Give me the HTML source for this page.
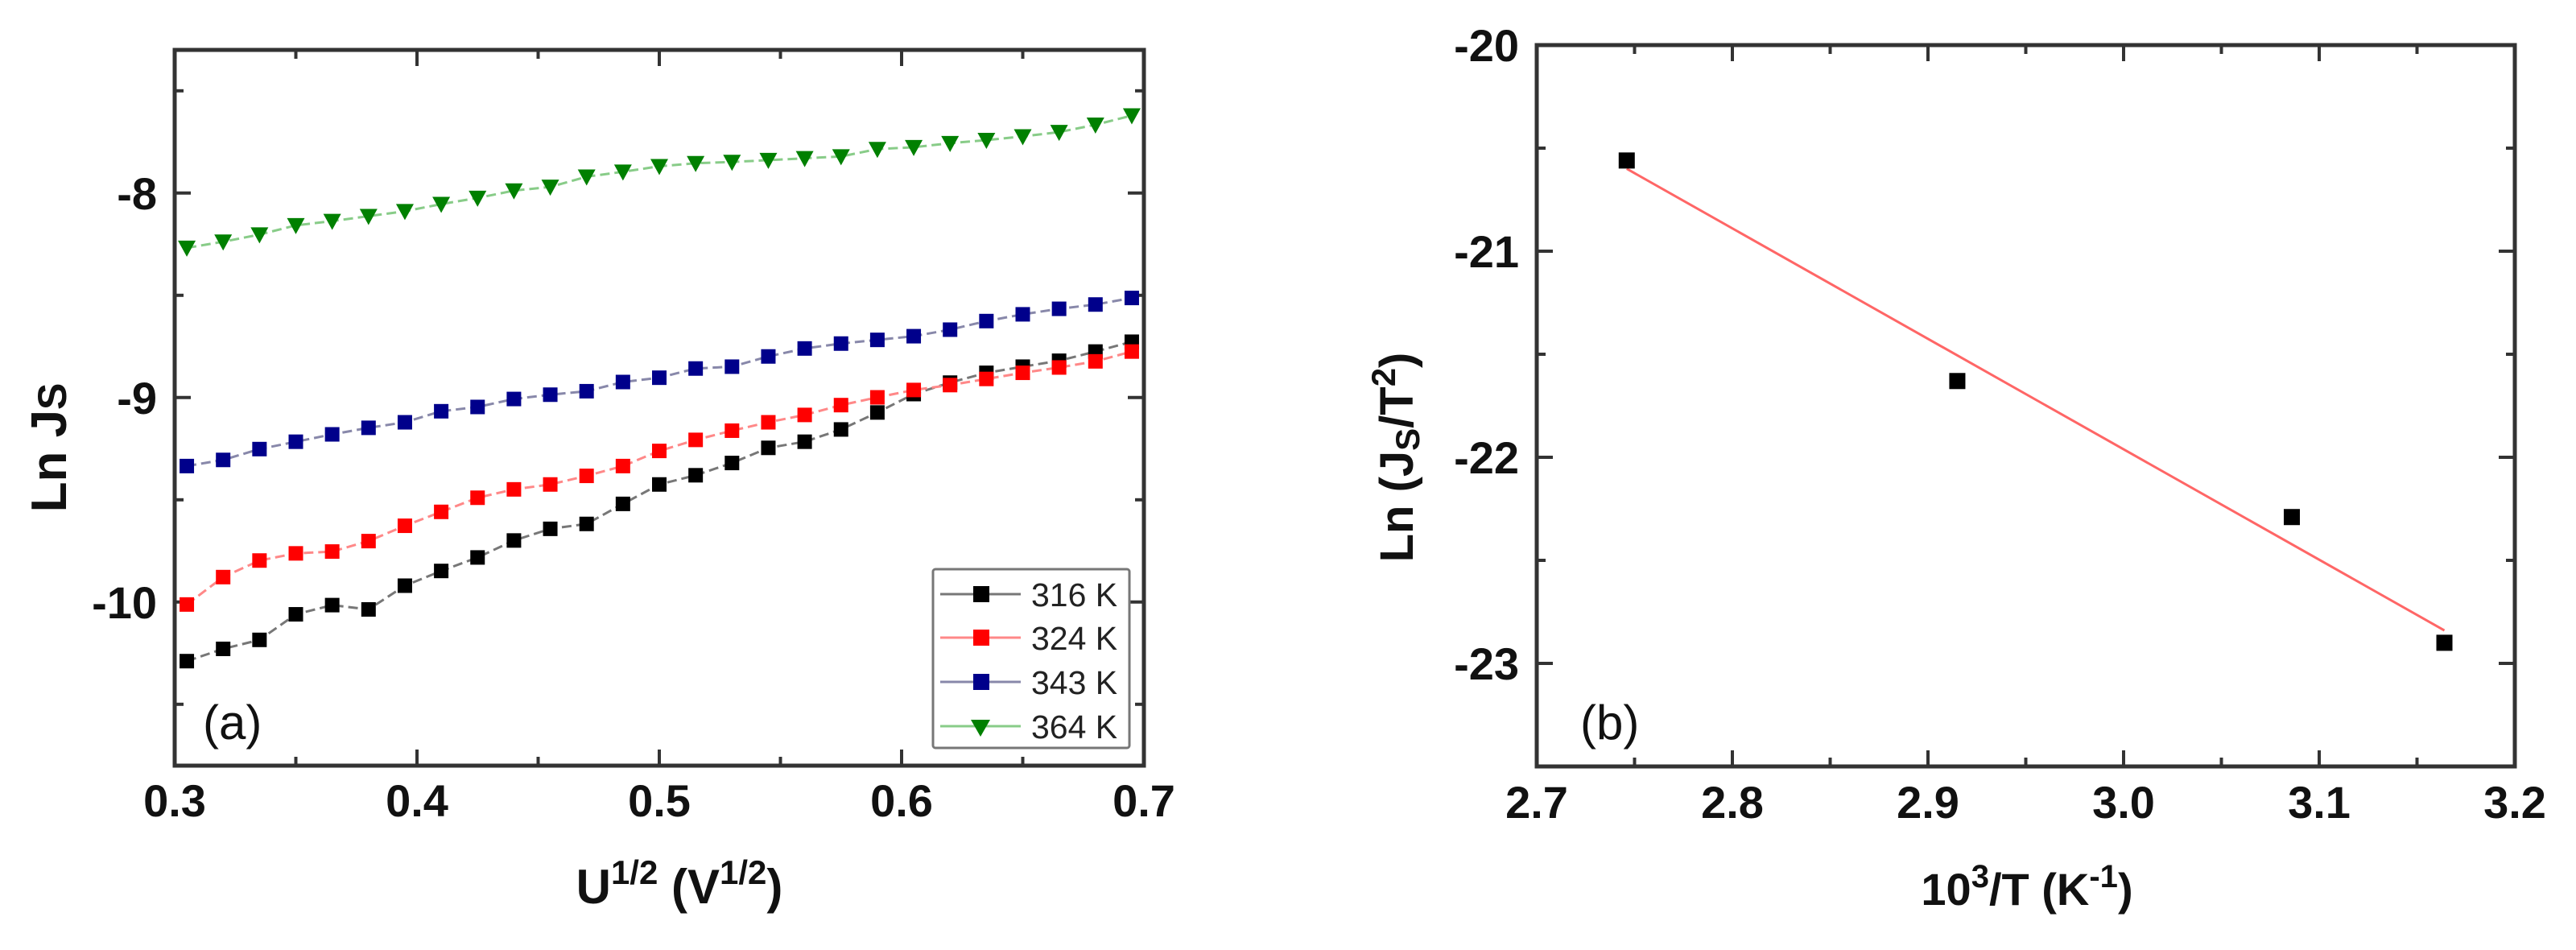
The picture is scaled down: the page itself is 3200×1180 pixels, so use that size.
<!DOCTYPE html>
<html><head><meta charset="utf-8"><style>
html,body{margin:0;padding:0;background:#fff;}
svg{display:block;font-family:"Liberation Sans",Arial,sans-serif;}
</style></head><body>
<svg id="fig" width="3200" height="1180" viewBox="0 0 3200 1180" xmlns="http://www.w3.org/2000/svg">
<rect width="3200" height="1180" fill="#fff"/>
<g id="chartA"></g>
<g id="chartB"></g>
</svg>
<script>
// ---- Chart (a) data ----
const aXStart = 0.305, aXStep = 0.015;
const a316 = [-10.289,-10.229,-10.185,-10.060,-10.015,-10.036,-9.920,-9.848,-9.782,-9.699,-9.642,-9.618,-9.520,-9.425,-9.380,-9.320,-9.246,-9.216,-9.156,-9.073,-8.983,-8.927,-8.879,-8.849,-8.820,-8.775,-8.727];
const a324 = [-10.012,-9.878,-9.797,-9.762,-9.753,-9.702,-9.627,-9.559,-9.490,-9.449,-9.425,-9.383,-9.335,-9.261,-9.207,-9.162,-9.121,-9.085,-9.037,-8.999,-8.963,-8.939,-8.909,-8.879,-8.853,-8.823,-8.775];
const a343 = [-9.335,-9.305,-9.252,-9.216,-9.180,-9.148,-9.121,-9.067,-9.046,-9.007,-8.986,-8.969,-8.924,-8.903,-8.858,-8.849,-8.799,-8.760,-8.736,-8.718,-8.700,-8.668,-8.626,-8.593,-8.566,-8.545,-8.513];
const a364 = [-8.268,-8.238,-8.203,-8.158,-8.137,-8.113,-8.089,-8.054,-8.024,-7.988,-7.970,-7.920,-7.896,-7.869,-7.854,-7.848,-7.839,-7.830,-7.821,-7.785,-7.776,-7.756,-7.741,-7.723,-7.702,-7.666,-7.621];
const aXTicks = [0.3,0.4,0.5,0.6,0.7];
const aXTickLabels = ["0.3","0.4","0.5","0.6","0.7"];
const aYTicks = [-10,-9,-8];
const aYTickLabels = ["-10","-9","-8"];
const aLegend = ["316 K","324 K","343 K","364 K"];
// ---- Chart (b) data ----
const bX = [2.746,2.915,3.086,3.164];
const bY = [-20.56,-21.63,-22.29,-22.90];
const bFitX = [2.746,3.164];
const bFitY = [-20.60,-22.84];
const bXTicks = [2.7,2.8,2.9,3.0,3.1,3.2];
const bXTickLabels = ["2.7","2.8","2.9","3.0","3.1","3.2"];
const bYTicks = [-23,-22,-21,-20];
const bYTickLabels = ["-23","-22","-21","-20"];

const NS="http://www.w3.org/2000/svg";
function mk(parent,tag,attrs,text){const e=document.createElementNS(NS,tag);for(const k in attrs)e.setAttribute(k,attrs[k]);if(text!==undefined)e.textContent=text;parent.appendChild(e);return e;}

function frame(g,L,R,T,B,xMin,xMax,xMinor,yMin,yMax,yMinor,sx,sy){
  const r=mk(g,'rect',{x:L,y:T,width:R-L,height:B-T,fill:'none',stroke:'#333','stroke-width':5});
  
  
  for(let v=xMin;v<=xMax+1e-9;v+=xMinor){
    const x=sx(v);const major=Math.abs(Math.round(v*10)-v*10)<1e-6;const len=major?20:11;
    const t1=mk(g,'line',{x1:x,y1:B,x2:x,y2:B-len,stroke:'#333','stroke-width':4});
    
    
    const t2=mk(g,'line',{x1:x,y1:T,x2:x,y2:T+len,stroke:'#333','stroke-width':4});
    
    
  }
  for(let v=yMin;v<=yMax+1e-9;v+=yMinor){
    const y=sy(v);const major=Math.abs(Math.round(v)-v)<1e-6;const len=major?20:11;
    const t1=mk(g,'line',{x1:L,y1:y,x2:L+len,y2:y,stroke:'#333','stroke-width':4});
    
    
    const t2=mk(g,'line',{x1:R,y1:y,x2:R-len,y2:y,stroke:'#333','stroke-width':4});
    
    
  }
}

// ---- Chart (a) ----
(function(){
  const g=document.getElementById('chartA');
  const L=217,R=1421,T=62,B=951,xMin=0.3,xMax=0.7,yMin=-10.8,yMax=-7.3;
  const sx=v=>L+(v-xMin)/(xMax-xMin)*(R-L);
  const sy=v=>B-(v-yMin)/(yMax-yMin)*(B-T);
  frame(g,L,R,T,B,xMin,xMax,0.05,-10.5,-7.5,0.5,sx,sy);
  aXTicks.forEach((v,i)=>{const t=mk(g,'text',{x:sx(v),y:1014,'font-size':56,'font-weight':'bold','text-anchor':'middle',fill:'#111'},aXTickLabels[i]);
    
    });
  aYTicks.forEach((v,i)=>{const t=mk(g,'text',{x:195,y:sy(v)+20,'font-size':56,'font-weight':'bold','text-anchor':'end',fill:'#111'},aYTickLabels[i]);
    
    });
  const xt=mk(g,'text',{x:844,y:1122,'font-size':60,'font-weight':'bold','text-anchor':'middle',fill:'#111'});
  
  
  xt.innerHTML='U<tspan font-size="42" dy="-24">1/2</tspan><tspan dy="24"> (V</tspan><tspan font-size="42" dy="-24">1/2</tspan><tspan dy="24">)</tspan>';
  const yt=mk(g,'text',{x:0,y:0,'font-size':62,'font-weight':'bold','text-anchor':'middle',fill:'#111',transform:'translate(82,556) rotate(-90)'});
  
  
  yt.innerHTML='Ln J<tspan font-size="50">S</tspan>';
  const series=[[a316,'#000','#777','sq'],[a324,'#f00','#f88','sq'],[a343,'#00008b','#88a','sq'],[a364,'#008000','#8c8','tri']];
  series.forEach((s,si)=>{
    const sg=mk(g,'g',{});
    
    
    const pts=s[0].map((v,i)=>[sx(aXStart+aXStep*i),sy(v)]);
    const pl=mk(sg,'polyline',{points:pts.map(p=>p.join(',')).join(' '),fill:'none',stroke:s[2],'stroke-width':3,'stroke-dasharray':'12 6'});
    
    
    pts.forEach(p=>{
      let m;
      if(s[3]==='sq') m=mk(sg,'rect',{x:p[0]-9,y:p[1]-9,width:18,height:18,fill:s[1]});
      else m=mk(sg,'polygon',{points:`${p[0]-11},${p[1]-9} ${p[0]+11},${p[1]-9} ${p[0]},${p[1]+11}`,fill:s[1]});
      
      
    });
  });
  const lg=mk(g,'g',{});
  
  
  const lb=mk(lg,'rect',{x:1159,y:707,width:244,height:222,fill:'#fff',stroke:'#777','stroke-width':3,rx:3});
  
  
  const ly=[738,792,847,902];
  series.forEach((s,i)=>{
    const e=mk(lg,'g',{});
    
    
    mk(e,'line',{x1:1168,y1:ly[i],x2:1268,y2:ly[i],stroke:s[2],'stroke-width':3});
    if(s[3]==='sq') mk(e,'rect',{x:1209,y:ly[i]-10,width:20,height:20,fill:s[1]});
    else mk(e,'polygon',{points:`1206,${ly[i]-8} 1230,${ly[i]-8} 1218,${ly[i]+13}`,fill:s[1]});
    mk(e,'text',{x:1281,y:ly[i]+15,'font-size':41,fill:'#222'},aLegend[i]);
  });
  const pa=mk(g,'text',{x:252,y:918,'font-size':60,fill:'#111'},'(a)');
  
  
})();

// ---- Chart (b) ----
(function(){
  const g=document.getElementById('chartB');
  const L=1909,R=3124,T=56,B=952,xMin=2.7,xMax=3.2,yMin=-23.5,yMax=-20;
  const sx=v=>L+(v-xMin)/(xMax-xMin)*(R-L);
  const sy=v=>B-(v-yMin)/(yMax-yMin)*(B-T);
  frame(g,L,R,T,B,xMin,xMax,0.05,yMin,yMax,0.5,sx,sy);
  bXTicks.forEach((v,i)=>{const t=mk(g,'text',{x:sx(v),y:1016,'font-size':56,'font-weight':'bold','text-anchor':'middle',fill:'#111'},bXTickLabels[i]);
    
    });
  bYTicks.forEach((v,i)=>{const t=mk(g,'text',{x:1887,y:sy(v)+20,'font-size':56,'font-weight':'bold','text-anchor':'end',fill:'#111'},bYTickLabels[i]);
    
    });
  const xt=mk(g,'text',{x:2518,y:1124,'font-size':56,'font-weight':'bold','text-anchor':'middle',fill:'#111'});
  
  
  xt.innerHTML='10<tspan font-size="40" dy="-22">3</tspan><tspan dy="22">/T (K</tspan><tspan font-size="40" dy="-22">-1</tspan><tspan dy="22">)</tspan>';
  const yt=mk(g,'text',{x:0,y:0,'font-size':58,'font-weight':'bold','text-anchor':'middle',fill:'#111',transform:'translate(1755,568) rotate(-90)'});
  
  
  yt.innerHTML='Ln (J<tspan font-size="42" dy="8">S</tspan><tspan dy="-8">/T</tspan><tspan font-size="42" dy="-22">2</tspan><tspan dy="22">)</tspan>';
  const fit=mk(g,'line',{x1:sx(bFitX[0]),y1:sy(bFitY[0]),x2:sx(bFitX[1]),y2:sy(bFitY[1]),stroke:'#f66','stroke-width':3});
  
  
  bX.forEach((v,i)=>{
    const m=mk(g,'rect',{x:sx(v)-10,y:sy(bY[i])-10,width:20,height:20,fill:'#000'});
    
    
  });
  const pb=mk(g,'text',{x:1963,y:918,'font-size':60,fill:'#111'},'(b)');
  
  
})();
</script>
</body></html>
